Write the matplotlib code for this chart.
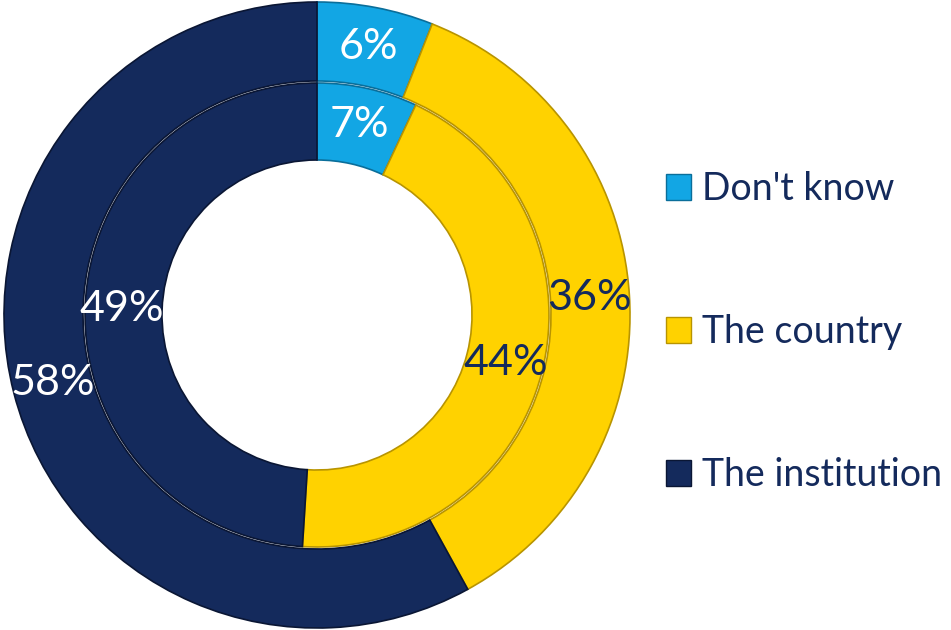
import numpy as np
import matplotlib.pyplot as plt
from matplotlib.patches import Patch

# %% Data
categories = ["Don't know", "The country", "The institution"]
outer_vals = [6, 36, 58]
inner_vals = [7, 44, 49]

colors = ['#12A6E4', '#FFD200', '#142A5C']
edge_colors = ['#0A6E9A', '#B89400', '#0A1634']
label_colors = ['white', '#142A5C', 'white']

plt.rcParams['font.family'] = ['Lato', 'DejaVu Sans']

# %% Figure in pixel units
fig = plt.figure(figsize=(9.51, 6.3), dpi=100)
ax = fig.add_axes([0, 0, 1, 1])

cx, cy = 317, 315
r_out, r_mid, r_in = 313, 234, 155

# outer ring
wedges_out, _ = ax.pie(outer_vals, radius=r_out, center=(cx, cy), colors=colors,
                       startangle=90, counterclock=False,
                       wedgeprops=dict(width=r_out - r_mid, linewidth=1.2))
# inner ring
wedges_in, _ = ax.pie(inner_vals, radius=r_mid - 2, center=(cx, cy), colors=colors,
                      startangle=90, counterclock=False,
                      wedgeprops=dict(width=r_mid - 2 - r_in, linewidth=1.2))
ax.set_xlim(0, 951)
ax.set_ylim(0, 630)
ax.set_aspect('equal')
ax.axis('off')

for ws in (wedges_out, wedges_in):
    for w, ec in zip(ws, edge_colors):
        w.set_edgecolor(ec)

# percentage labels at the middle of each segment
def add_labels(vals, radius):
    start = 0.0
    for v, c in zip(vals, label_colors):
        mid = (start + v / 2) / 100 * 2 * np.pi
        x = cx + radius * np.sin(mid)
        y = cy + radius * np.cos(mid)
        ax.text(x, y, f"{v}%", ha='center', va='center', fontsize=31, color=c)
        start += v

add_labels(outer_vals, 273)
add_labels(inner_vals, 195)

# legend on the right
handles = [Patch(facecolor=c, edgecolor=ec, linewidth=1) for c, ec in zip(colors, edge_colors)]
ax.legend(handles, categories, loc='center left', bbox_to_anchor=(647 / 951, 298 / 630),
          frameon=False, fontsize=27, labelcolor='#142A5C', handlelength=0.68,
          handleheight=0.68, handletextpad=0.3, labelspacing=2.85, borderpad=0)

fig.savefig('out.png', dpi=100)
